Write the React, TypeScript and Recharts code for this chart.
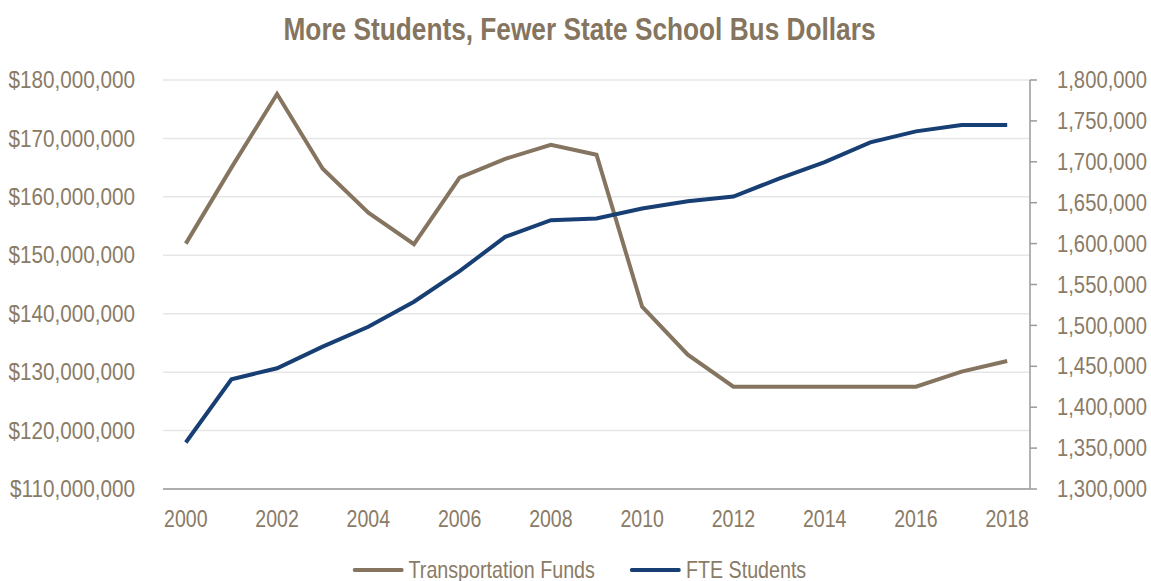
import { LineChart, Line, XAxis, YAxis, CartesianGrid, Legend } from 'recharts'

// values
const years = ['2000', '2001', '2002', '2003', '2004', '2005', '2006', '2007', '2008', '2009',
  '2010', '2011', '2012', '2013', '2014', '2015', '2016', '2017', '2018']
const transportationFunds = [152.0, 165.0, 177.6, 164.8, 157.3, 151.9, 163.3, 166.5, 168.9, 167.2,
  141.2, 133.0, 127.5, 127.5, 127.5, 127.5, 127.5, 130.1, 131.9].map(v => v * 1_000_000)
const fteStudents = [1356900, 1434200, 1447600, 1474000, 1498400, 1529000, 1566400, 1608200, 1628600, 1630700,
  1642900, 1651800, 1657500, 1679500, 1699700, 1723700, 1737200, 1744900, 1744900]
const dollarTicks = [110, 120, 130, 140, 150, 160, 170, 180].map(v => v * 1_000_000)
const studentTicks = [1300000, 1350000, 1400000, 1450000, 1500000, 1550000, 1600000, 1650000, 1700000, 1750000, 1800000]

const data = years.map((year, i) => ({ year, funds: transportationFunds[i], students: fteStudents[i] }))

// no narrow font installed, so squeeze Liberation Sans horizontally instead
const FONT = "'Liberation Sans', Arial, sans-serif"
const SQUEEZE = 0.82
const TEXT = '#8A7B66'
const BROWN = '#857560'
const NAVY = '#173F74'
const AXIS = '#9A9A9A'

function NarrowTick(props: any) {
  const { x, y, payload, textAnchor, verticalAnchor, format, squeeze = SQUEEZE } = props
  const dy = verticalAnchor === 'start' ? '0.71em' : '0.355em'
  return (
    <text transform={`translate(${x},${y}) scale(${squeeze},1)`} textAnchor={textAnchor} dy={dy}
      fontFamily={FONT} fontSize={23} fill={TEXT}>
      {format ? format(payload.value) : payload.value}
    </text>
  )
}

const fmtDollars = (v: number) => '$' + v.toLocaleString('en-US')
const fmtCount = (v: number) => v.toLocaleString('en-US')

function LegendContent() {
  const items = [{ label: 'Transportation Funds', color: BROWN }, { label: 'FTE Students', color: NAVY }]
  return (
    <div style={{ height: 42, display: 'flex', justifyContent: 'center', alignItems: 'flex-end', gap: 43,
      fontFamily: FONT, fontSize: 24, color: TEXT, lineHeight: '24px', transform: `scaleX(${SQUEEZE})` }}>
      {items.map(it => (
        <div key={it.label} style={{ display: 'flex', alignItems: 'center', marginBottom: -1 }}>
          <span style={{ display: 'inline-block', width: 62, height: 4, borderRadius: 2, background: it.color, marginRight: 6 }} />
          <span>{it.label}</span>
        </div>
      ))}
    </div>
  )
}

export default function App() {
  // fixed frame the size of the window: the chart may run off the bottom edge without a scrollbar
  return (
    <div style={{ position: 'fixed', left: 0, top: 0, width: 1151, height: 581, overflow: 'hidden', background: '#fff' }}>
      <div style={{ position: 'absolute', left: 8, top: 8, width: 1143, height: 573 }}>
        <div style={{ position: 'absolute', top: 3, left: 0, width: 1143, textAlign: 'center', fontFamily: FONT, fontWeight: 700,
          fontSize: 32, color: BROWN, transform: `scaleX(${SQUEEZE})` }}>
          More Students, Fewer State School Bus Dollars
        </div>
        <LineChart width={1143} height={573} data={data} margin={{ top: 72, right: 0, bottom: 0, left: 0 }}>
          <CartesianGrid yAxisId="left" vertical={false} stroke="#E6E6E6" strokeWidth={1.5} />
          <XAxis dataKey="year" interval={1} height={50} padding={{ left: 22.8, right: 22.8 }}
            tick={<NarrowTick squeeze={0.85} />} tickLine={false} tickMargin={16} axisLine={{ stroke: AXIS, strokeWidth: 1.5 }} />
          <YAxis yAxisId="left" orientation="left" width={155} domain={[110_000_000, 180_000_000]} ticks={dollarTicks}
            tick={<NarrowTick format={fmtDollars} squeeze={0.9} />} axisLine={false} tickLine={false} tickMargin={22} />
          <YAxis yAxisId="right" orientation="right" width={121} domain={[1300000, 1800000]} ticks={studentTicks}
            tick={<NarrowTick format={fmtCount} squeeze={0.88} />}
            axisLine={{ stroke: AXIS, strokeWidth: 1.5 }} tickLine={{ stroke: AXIS, strokeWidth: 1.5 }} tickSize={7} tickMargin={20} />
          <Legend verticalAlign="bottom" height={42} content={() => <LegendContent />} />
          <Line yAxisId="left" type="linear" dataKey="funds" name="Transportation Funds" stroke={BROWN} strokeWidth={4} dot={false} isAnimationActive={false} />
          <Line yAxisId="right" type="linear" dataKey="students" name="FTE Students" stroke={NAVY} strokeWidth={4} dot={false} isAnimationActive={false} />
        </LineChart>
      </div>
    </div>
  )
}
